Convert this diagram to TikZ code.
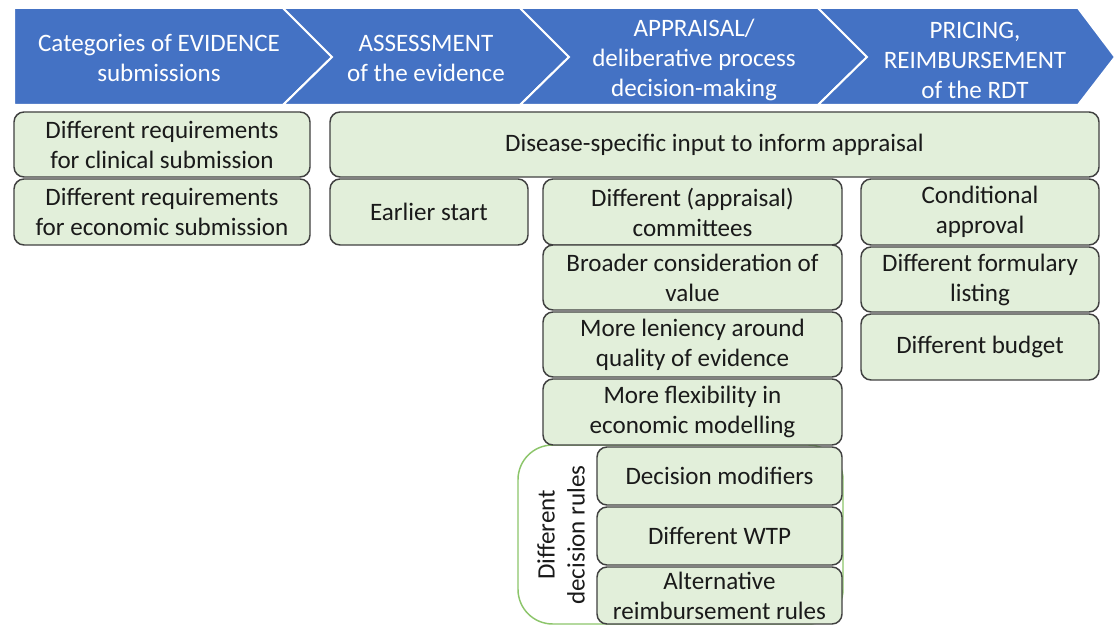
\documentclass[tikz,border=0pt]{standalone}
\usepackage{fontspec}
\setmainfont{Carlito}
\definecolor{hdblue}{HTML}{4472C4}
\definecolor{boxfill}{HTML}{E2EFDA}
\definecolor{boxline}{HTML}{404040}
\definecolor{rulegreen}{HTML}{8CC56A}
\definecolor{boxtext}{HTML}{1A1A1A}
% green box from (x1,y1) to (x2,y2): name, x1, y1, x2, y2, text
\newcommand\gboxat[6]{%
  \node[gbox, minimum width={(#4-#2)*0.75pt}, minimum height={(#5-#3)*0.75pt}]
    (#1) at ({(#2+#4)/2},{(#3+#5)/2}) {#6};}
\begin{document}
\begin{tikzpicture}[x=0.75pt,y=-0.75pt,
  chev/.style={fill=hdblue, draw=white, line width=1.5pt, line join=miter},
  hdtext/.style={text=white, align=center, inner sep=0pt,
    font=\fontsize{18.8}{22.5}\selectfont},
  gbox/.style={draw=boxline, fill=boxfill, rounded corners=7.5pt, line width=1.1pt,
    align=center, inner sep=0pt, text=boxtext,
    font=\fontsize{18.8}{22.5}\selectfont},
  rulebox/.style={draw=rulegreen, line width=1.1pt, rounded corners=26pt, inner sep=0pt},
]
\useasboundingbox (0,0) rectangle (1115,627);

% process chevrons
\fill[white] (0,0) rectangle (1115,627);
\draw[chev] (14,8) -- (283,8) -- (332,57) -- (283,105) -- (14,105) -- cycle;
\draw[chev] (283,8) -- (520,8) -- (569,57) -- (520,105) -- (283,105) -- (332,57) -- cycle;
\draw[chev] (520,8) -- (818,8) -- (867,57) -- (818,105) -- (520,105) -- (569,57) -- cycle;
\draw[chev] (818,8) -- (1078,8) -- (1115,57) -- (1078,105) -- (818,105) -- (867,57) -- cycle;

\node[hdtext] (h1) at (159,58) {Categories of EVIDENCE\\submissions};
\node[hdtext] (h2) at (426,58) {ASSESSMENT\\of the evidence};
\node[hdtext] (h3) at (694,60) {APPRAISAL/\\deliberative process\\decision-making};
\node[hdtext] (h4) at (975,60) {PRICING,\\REIMBURSEMENT\\of the RDT};

% bracket grouping the decision rules
\node[rulebox, minimum width={(843-518)*0.75pt}, minimum height={(624-445)*0.75pt}]
  (rules) at ({(518+843)/2},{(445+624)/2}) {};
\node[rotate=90, align=center, inner sep=0pt, text=boxtext,
  font=\fontsize{18.8}{22.5}\selectfont] (rulestext) at (561,535)
  {Different\\decision rules};

% evidence submissions
\gboxat{cl}{14}{112}{310}{177}{Different requirements\\for clinical submission}
\gboxat{ec}{14}{179}{310}{245}{Different requirements\\for economic submission}

% disease-specific input
\gboxat{ds}{330}{112}{1099}{177}{Disease-specific input to inform appraisal}
\gboxat{es}{330}{179}{528}{245}{Earlier start}

% appraisal column
\gboxat{c1}{543}{179}{842}{245}{Different (appraisal)\\committees}
\gboxat{c2}{543}{245}{842}{310}{Broader consideration of\\value}
\gboxat{c3}{543}{312}{842}{377}{More leniency around\\quality of evidence}
\gboxat{c4}{543}{379}{842}{445}{More flexibility in\\economic modelling}
\gboxat{r1}{597}{447}{842}{505}{Decision modifiers}
\gboxat{r2}{597}{507}{842}{565}{Different WTP}
\gboxat{r3}{597}{567}{842}{624}{Alternative\\reimbursement rules}

% pricing column
\gboxat{p1}{861}{179}{1099}{245}{Conditional\\approval}
\gboxat{p2}{861}{247}{1099}{312}{Different formulary\\listing}
\gboxat{p3}{861}{314}{1099}{380}{Different budget}
\end{tikzpicture}
\end{document}
